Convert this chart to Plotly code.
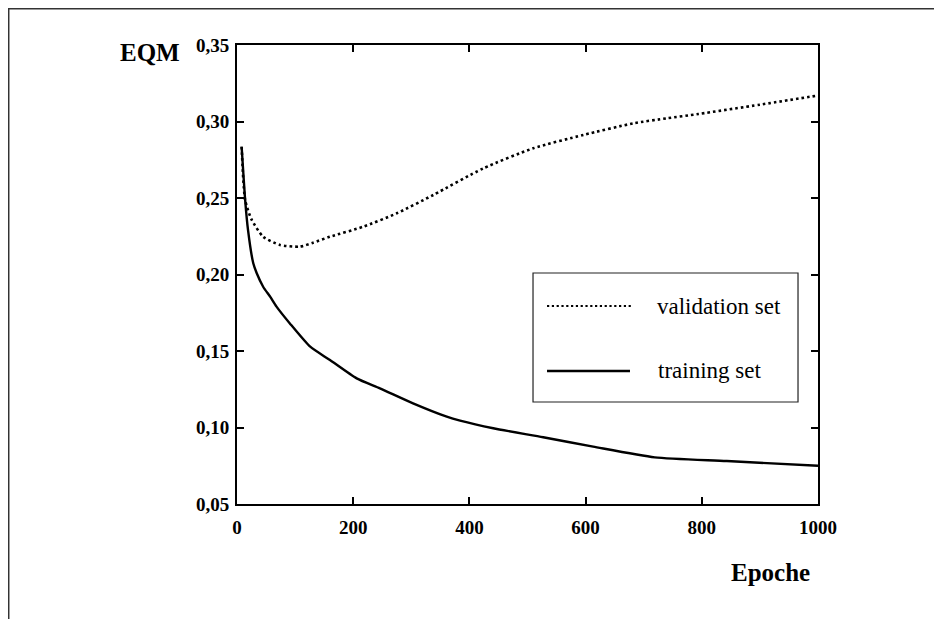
import plotly.graph_objects as go

# ---- data ----
val_epochs = [8, 14, 25, 45, 74, 108, 131, 160, 217, 275, 338, 424, 510, 596, 682, 740, 794, 900, 1000]
val_eqm = [0.2835, 0.2487, 0.236, 0.2247, 0.2193, 0.2182, 0.2208, 0.2247, 0.2312, 0.240, 0.252,
           0.2694, 0.2825, 0.2912, 0.2988, 0.3021, 0.3049, 0.311, 0.317]

train_epochs = [8, 14, 19, 28, 34, 45, 57, 68, 91, 126, 160, 206, 246, 303, 361, 384, 441, 527,
                613, 719, 843, 1000]
train_eqm = [0.2835, 0.249, 0.229, 0.2073, 0.2008, 0.192, 0.1855, 0.179, 0.168, 0.1528, 0.1441,
             0.1321, 0.1256, 0.1158, 0.1071, 0.1045, 0.0995, 0.0936, 0.0875, 0.0805, 0.0781, 0.075]

x_ticks = [0, 200, 400, 600, 800, 1000]
x_labels = ["0", "200", "400", "600", "800", "1000"]
y_ticks = [0.05, 0.10, 0.15, 0.20, 0.25, 0.30, 0.35]
y_labels = ["0,05", "0,10", "0,15", "0,20", "0,25", "0,30", "0,35"]

series_names = ["validation set", "training set"]

FONT = "Liberation Serif"

fig = go.Figure()
fig.add_trace(go.Scatter(x=val_epochs, y=val_eqm, mode="lines", name=series_names[0],
                         line=dict(color="black", width=2.6, dash="2.6px,3px",
                                   shape="spline", smoothing=0.6),
                         showlegend=False))
fig.add_trace(go.Scatter(x=train_epochs, y=train_eqm, mode="lines", name=series_names[1],
                         line=dict(color="black", width=2.4, shape="spline", smoothing=0.6),
                         showlegend=False))

axis_common = dict(showline=True, linewidth=2, linecolor="black", mirror="ticks",
                   ticks="inside", ticklen=7, tickwidth=2, tickcolor="black",
                   showgrid=False, zeroline=False,
                   tickfont=dict(family=FONT, size=19, color="black", weight="bold"))

fig.update_xaxes(range=[0, 1000], tickvals=x_ticks, ticktext=x_labels,
                 ticklabelstandoff=5, **axis_common)
fig.update_yaxes(range=[0.05, 0.35], tickvals=y_ticks, ticktext=y_labels,
                 ticklabelstandoff=2, **axis_common)

# outer frame
fig.add_shape(type="rect", xref="paper", yref="paper", x0=-0.3929, x1=1.2117, y0=-0.32, y1=1.079,
              line=dict(color="#333", width=1.5), layer="below")

# legend (drawn manually to match the reference box)
fig.add_shape(type="rect", xref="paper", yref="paper", x0=0.5095, x1=0.9656, y0=0.2222, y1=0.5033,
              line=dict(color="#222", width=1.2), fillcolor="white")
fig.add_shape(type="line", xref="paper", yref="paper", x0=0.5336, x1=0.6816, y0=0.4314, y1=0.4314,
              line=dict(color="black", width=2.2, dash="2.2px,2.6px"))
fig.add_shape(type="line", xref="paper", yref="paper", x0=0.5336, x1=0.6764, y0=0.2898, y1=0.2898,
              line=dict(color="black", width=2.4))
fig.add_annotation(xref="paper", yref="paper", x=0.7194, y=0.4292, xanchor="left", yanchor="middle",
                   text=series_names[0], showarrow=False,
                   font=dict(family=FONT, size=23, color="black"))
fig.add_annotation(xref="paper", yref="paper", x=0.7220, y=0.2908, xanchor="left", yanchor="middle",
                   text=series_names[1], showarrow=False,
                   font=dict(family=FONT, size=23, color="black"))

# axis titles
fig.add_annotation(xref="paper", yref="paper", x=-0.1506, y=0.9837, xanchor="center", yanchor="middle",
                   text="<b>EQM</b>", showarrow=False,
                   font=dict(family=FONT, size=25, color="black"))
fig.add_annotation(xref="paper", yref="paper", x=0.9191, y=-0.1488, xanchor="center", yanchor="middle",
                   text="<b>Epoche</b>", showarrow=False,
                   font=dict(family=FONT, size=25, color="black"))

fig.update_layout(width=942, height=619, margin=dict(l=229, r=132, t=37, b=123),
                  paper_bgcolor="white", plot_bgcolor="white", showlegend=False)

fig.write_html("out.html")
